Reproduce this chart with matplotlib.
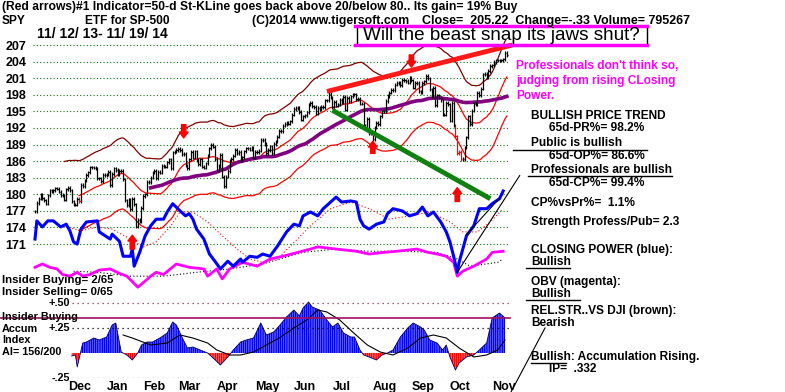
import numpy as np
import pandas as pd
import matplotlib
matplotlib.use('Agg')
import matplotlib.pyplot as plt
from matplotlib.lines import Line2D
from matplotlib.patches import Rectangle

plt.rcParams['font.family'] = ['Liberation Sans', 'DejaVu Sans']
plt.rcParams['hatch.linewidth'] = 1.1

W, H = 785, 392
X0 = 35          # pixel of first bar
PX_DAY = 1.836   # pixels per trading day

# ---------------- data ----------------
# SPY daily closes 11/12/13 - 11/19/14
nov13 = [176.9, 178.4, 179.2, 180.0, 179.3, 178.9, 178.3, 179.8, 180.7, 180.6, 180.7, 181.1, 181.0]
dec13 = [180.5, 179.9, 179.8, 179.0, 180.9, 181.2, 180.7, 178.7, 178.1, 178.1, 179.2, 178.7, 181.7,
         181.5, 182.5, 183.5, 184.0, 184.9, 184.9, 184.8, 184.7]
jan14 = [182.9, 182.9, 182.4, 183.5, 183.5, 183.6, 184.1, 181.7, 183.7, 184.7, 184.4, 183.6, 184.2,
         184.3, 182.7, 178.9, 178.0, 179.1, 177.3, 179.2, 178.2]
feb14 = [174.2, 175.4, 175.2, 177.5, 179.7, 180.0, 182.2, 182.2, 183.0, 184.0, 184.2, 182.9, 184.1,
         183.9, 185.1, 185.0, 185.0, 185.8, 186.3]
mar14 = [184.7, 187.6, 187.7, 188.0, 188.2, 188.0, 187.2, 187.3, 185.2, 184.7, 186.3, 187.7, 186.6,
         187.8, 186.2, 185.4, 186.3, 185.0, 184.8, 185.6, 187.0]
apr14 = [188.3, 188.9, 188.6, 186.4, 184.3, 185.1, 187.1, 183.2, 181.5, 183.2, 184.2, 186.1, 186.4,
         187.0, 188.0, 187.4, 187.7, 186.2, 186.7, 187.8, 188.3]
may14 = [188.3, 188.1, 188.4, 186.6, 187.7, 187.6, 187.9, 189.8, 189.9, 189.1, 187.4, 188.0, 188.7,
         187.4, 189.1, 189.6, 190.4, 191.5, 191.4, 192.4, 192.7]
jun14 = [192.9, 192.8, 193.2, 194.4, 195.4, 195.6, 195.6, 194.9, 193.5, 194.1, 194.3, 194.8, 196.3,
         196.5, 195.9, 195.8, 194.6, 195.6, 195.4, 195.8, 195.7]
jul14 = [197.0, 197.0, 198.2, 197.5, 195.8, 196.7, 196.0, 196.3, 197.1, 196.7, 197.6, 195.3, 197.4,
         196.9, 197.7, 198.0, 198.1, 197.2, 197.3, 196.4, 196.4, 192.5]
aug14 = [192.0, 193.6, 191.1, 191.0, 190.0, 192.1, 192.9, 192.7, 194.1, 195.0, 195.0, 196.9, 197.8,
         198.4, 198.9, 198.8, 199.8, 200.1, 200.1, 199.7, 200.7]
sep14 = [200.6, 200.5, 200.2, 201.1, 200.6, 199.3, 200.1, 200.2, 198.6, 198.5, 200.1, 200.4, 201.4,
         201.0, 199.0, 197.7, 199.3, 196.1, 197.9, 197.5, 197.0]
oct14 = [194.4, 194.4, 196.5, 196.3, 193.3, 196.6, 192.5, 190.5, 187.4, 187.7, 186.4, 186.4, 188.5,
         190.3, 194.1, 192.7, 195.1, 196.4, 196.2, 198.4, 197.9, 199.1, 201.7]
nov14 = [201.8, 201.1, 202.3, 203.2, 203.3, 203.9, 204.2, 204.2, 204.2, 204.2, 204.4, 205.6, 205.2]

month_names = ['Dec', 'Jan', 'Feb', 'Mar', 'Apr', 'May', 'Jun', 'Jul', 'Aug', 'Sep', 'Oct', 'Nov']
month_start = [13, 34, 54, 73, 94, 115, 136, 157, 179, 200, 221, 244]
price_ticks = [207, 204, 201, 198, 195, 192, 189, 186, 183, 180, 177, 174, 171]
red_bar_days = [24, 229, 230, 231, 232]

# closing power (blue), plotted on the price scale
cp_x = [0, 1, 4, 7, 10, 14, 17, 19, 21, 23, 25, 28, 34, 35, 41, 42, 46, 48, 52, 53, 54, 57, 60, 63,
        66, 70, 72, 75, 79, 82, 84, 86, 88, 92, 95, 98, 101, 105, 108, 112, 113, 117, 121, 124, 128,
        132, 137, 141, 144, 146, 150, 154, 157, 161, 164, 167, 172, 175, 177, 179, 182, 186, 190,
        192, 195, 200, 204, 208, 211, 214, 217, 221, 224, 226, 228, 230, 231, 235, 239, 242, 246,
        249, 253, 255]
cp_val = [171.9, 175.2, 174.1, 175.2, 175.2, 174.1, 174.6, 173.4, 171.4, 171.0, 173.7, 175.0, 175.2,
          173.2, 171.9, 172.8, 171.5, 168.8, 168.8, 170.1, 167.0, 169.5, 172.5, 174.3, 175.5, 175.5,
          176.8, 178.3, 177.0, 176.1, 176.5, 175.5, 173.7, 171.9, 169.2, 167.9, 166.5, 167.9, 167.0,
          168.3, 167.7, 168.8, 168.6, 169.2, 168.8, 170.6, 173.2, 174.6, 174.3, 176.1, 176.8, 176.1,
          177.4, 178.6, 179.5, 178.6, 178.8, 178.6, 175.5, 174.3, 173.7, 174.6, 175.0, 176.5, 177.4,
          177.0, 176.1, 176.5, 177.7, 176.1, 176.8, 175.0, 173.2, 171.4, 168.8, 165.9, 167.7, 172.5,
          174.3, 177.4, 177.4, 178.3, 179.2, 180.6]
cp_ma_x = [15, 25, 34, 42, 52, 59, 66, 74, 79, 86, 94, 102, 110, 117, 124, 132, 139, 150, 161, 172,
           182, 193, 204, 215, 226, 233, 241, 248, 255]
cp_ma_val = [174.3, 173.4, 174.1, 173.7, 171.9, 170.5, 171.4, 174.3, 176.8, 176.8, 175.0, 172.5,
             170.1, 168.3, 167.7, 168.3, 170.6, 174.3, 177.4, 178.6, 177.4, 175.5, 176.1, 176.8,
             175.0, 173.2, 173.2, 175.0, 177.4]

# OBV (magenta) and its average, plotted on the price scale
obv_x = [0, 4, 8, 12, 15, 19, 23, 26, 30, 35, 41, 46, 50, 56, 61, 63, 66, 70, 77, 84, 92, 94, 99,
         102, 106, 113, 121, 128, 135, 143, 150, 154, 164, 175, 182, 190, 197, 208, 214, 219, 224,
         228, 230, 233, 239, 246, 249, 255]
obv_val = [166.8, 167.4, 166.8, 166.5, 165.5, 165.2, 165.9, 165.2, 165.5, 166.3, 166.5, 165.7, 165.2,
           163.2, 164.6, 165.2, 165.9, 165.5, 167.4, 166.8, 166.5, 165.2, 166.5, 164.7, 166.5, 167.7,
           167.0, 168.3, 168.8, 169.5, 170.1, 170.5, 170.1, 169.7, 169.2, 169.5, 169.7, 170.1, 169.5,
           169.2, 168.8, 167.7, 165.2, 166.1, 167.0, 168.3, 169.5, 169.7]
obv_ma_x = [21, 34, 52, 70, 88, 106, 124, 146, 164, 182, 200, 219, 230, 237, 252, 255]
obv_ma_val = [166.1, 165.9, 165.2, 165.2, 165.9, 166.5, 167.4, 169.5, 170.1, 169.7, 169.7, 169.5,
              168.3, 167.0, 167.7, 168.3]

# trend lines drawn on the chart (day index, value)
red_trend_x, red_trend_y = [159, 260], [198.6, 207.0]
green_trend_x, green_trend_y = [162, 248], [195.2, 179.2]
cp_trend1_x, cp_trend1_y = [230, 264], [165.9, 183.4]
cp_trend2_x, cp_trend2_y = [235, 253], [172.7, 179.3]

# red signal arrows (day index, tail, tip)
down_arrows = [(81, 192.6, 190.2), (205, 205.2, 203.0)]
up_arrows = [(53, 170.1, 172.6), (184, 187.4, 189.6), (230, 178.7, 181.2)]

# accumulation index
ai_x = [20, 22, 23, 26, 28, 32, 35, 39, 42, 44, 45, 47, 50, 53, 56, 58, 61, 64, 68, 72, 75, 77, 80,
        83, 86, 90, 94, 97, 101, 105, 108, 112, 115, 119, 123, 126, 130, 133, 137, 141, 144, 146,
        149, 151, 155, 159, 162, 165, 168, 172, 174, 177, 179, 182, 186, 189, 192, 195, 199, 203,
        206, 210, 212, 215, 219, 222, 224, 226, 229, 231, 235, 239, 242, 246, 249, 253, 256]
ai_val = [-0.03, -0.02, -0.14, 0.10, 0.11, 0.15, 0.13, 0.16, 0.28, 0.30, 0.20, 0.01, -0.02, -0.07,
          0.0, 0.08, 0.11, 0.11, 0.15, 0.20, 0.31, 0.28, 0.16, 0.05, 0.06, 0.03, 0.0, -0.05, -0.12,
          -0.04, 0.03, 0.11, 0.13, 0.15, 0.30, 0.18, 0.21, 0.27, 0.36, 0.43, 0.37, 0.45, 0.51, 0.46,
          0.43, 0.33, 0.26, 0.30, 0.20, 0.16, 0.16, 0.03, -0.02, -0.04, -0.07, -0.02, 0.0, 0.03,
          0.16, 0.25, 0.30, 0.26, 0.23, 0.13, 0.10, 0.03, 0.08, -0.04, -0.17, -0.10, -0.04, -0.02,
          0.03, 0.10, 0.35, 0.40, 0.35]
ai_ma_x = [48, 53, 63, 72, 79, 86, 94, 99, 106, 112, 119, 126, 133, 141, 148, 154, 159, 166, 173,
           181, 188, 195, 203, 210, 217, 224, 231, 239, 246, 252, 256]
ai_ma_val = [0.18, 0.15, 0.08, 0.10, 0.18, 0.15, 0.10, 0.03, -0.02, -0.02, 0.01, 0.08, 0.15, 0.25,
             0.33, 0.43, 0.41, 0.33, 0.21, 0.08, 0.01, -0.02, 0.05, 0.15, 0.18, 0.15, 0.05, -0.04,
             -0.02, 0.03, 0.13]
insider_level = 0.35

# ---------------- figure ----------------
def fx(px):
    return px / W


def fy(py):
    return 1 - py / H


closes = np.array(nov13 + dec13 + jan14 + feb14 + mar14 + apr14 + may14 + jun14 + jul14 +
                  aug14 + sep14 + oct14 + nov14)
days = np.arange(len(closes))
s = pd.Series(closes)
ma21 = s.rolling(21, min_periods=1).mean().values
ma50 = s.rolling(50, min_periods=1).mean().values

fig = plt.figure(figsize=(W / 100, H / 100), dpi=100)
fig.patch.set_facecolor('white')

xlim = (-X0 / PX_DAY, (530 - X0) / PX_DAY)
ax = fig.add_axes([0, fy(292), fx(530), (292 - 40) / H])
ax.set_xlim(*xlim)
ax.set_ylim(207 - (292 - 45) / 5.53, 207 + (45 - 40) / 5.53)
for sp in ax.spines.values():
    sp.set_visible(False)
ax.set_xticks([])
ax.set_yticks(price_ticks)
ax.set_yticklabels([str(p) for p in price_ticks], fontweight='bold', fontsize=9)
ax.tick_params(axis='y', length=0, pad=-19)

ax.hlines(price_ticks, -1, 258, colors='#0a7a0a', linestyles=(0, (1, 2)), lw=0.8)

# bands and averages
ax.plot(days[16:], ma21[16:] * 1.035, color='#800000', lw=0.9)
ax.plot(days[24:], ma21[24:], color='#ff0000', lw=0.9)
ax.plot(days[24:], ma21[24:] * 0.965, color='#ff0000', lw=0.9)
ax.plot(days[63:], ma50[63:], color='#800080', lw=2.6)

# price bars
prev = np.r_[closes[0], closes[:-1]]
lo = np.minimum(prev, closes) - 0.3
hi = np.maximum(prev, closes) + 0.3
bar_col = ['red' if d in red_bar_days else 'black' for d in days]
ax.vlines(days, lo, hi, colors=bar_col, lw=0.9)
ax.hlines(closes, days, days + 0.8, colors=bar_col, lw=0.9)

# trend lines
ax.plot(red_trend_x, red_trend_y, color='#ff1a1a', lw=3.5, solid_capstyle='butt')
ax.plot(green_trend_x, green_trend_y, color='#108010', lw=3.5, solid_capstyle='butt')

# indicators
ax.plot(cp_ma_x, cp_ma_val, color='#ff0000', lw=0.8, ls=(0, (1, 2)))
ax.plot(obv_ma_x, obv_ma_val, color='black', lw=0.8, ls=(0, (1, 2)))
ax.plot(obv_x, obv_val, color='#ff00ff', lw=2)
ax.plot(cp_x, cp_val, color='#0000ff', lw=2.2)
ax.plot(cp_trend1_x, cp_trend1_y, color='black', lw=0.8, clip_on=False)
ax.plot(cp_trend2_x, cp_trend2_y, color='black', lw=0.8)

for d, tail, tip in down_arrows + up_arrows:
    ax.annotate('', xy=(d, tip), xytext=(d, tail),
                arrowprops=dict(arrowstyle='simple,head_width=0.9,head_length=0.6,tail_width=0.45',
                                color='red', shrinkA=0, shrinkB=0, mutation_scale=7))

# accumulation panel
ax2 = fig.add_axes([0, fy(378), fx(530), (378 - 292) / H])
ax2.set_xlim(*xlim)
ax2.set_ylim(-0.25, 0.25 + (328 - 292) / 100)
for sp in ax2.spines.values():
    sp.set_visible(False)
ax2.set_yticks([])
ax2.set_xticks([m + 5 for m in month_start])
ax2.set_xticklabels(month_names, fontweight='bold', fontsize=9, ha='left')
ax2.tick_params(axis='x', length=0, pad=2)

ai_x_a = np.array(ai_x)
ai_v_a = np.array(ai_val)
ax2.fill_between(ai_x_a, 0, ai_v_a, where=ai_v_a >= 0, interpolate=True,
                 facecolor='white', edgecolor='#0000ff', hatch='|' * 9, lw=0)
ax2.fill_between(ai_x_a, 0, ai_v_a, where=ai_v_a <= 0, interpolate=True,
                 facecolor='white', edgecolor='#ff0000', hatch='|' * 9, lw=0)
ax2.plot(ai_x, ai_val, color='#000060', lw=0.6)
ax2.plot(ai_ma_x, ai_ma_val, color='black', lw=0.8)
ax2.hlines([0.5, -0.25], 20, 258, colors='#903050', linestyles=(0, (1, 3)), lw=0.9)
ax2.hlines([0.25], 20, 258, colors='black', linestyles=(0, (1, 3)), lw=0.9)
ax2.axhline(insider_level, xmin=0, xmax=510 / 530, color='#a01060', lw=1.2)
for v, lab in [(0.5, '+.50'), (0.25, '+.25'), (-0.25, '-.25')]:
    ax2.text(19, v, lab, ha='right', va='center', fontsize=7.8, fontweight='bold')

# ---------------- texts ----------------
def t(x, y, s, **kw):
    kw.setdefault('fontsize', 8.6)
    kw.setdefault('fontweight', 'bold')
    fig.text(fx(x), fy(y), s, va='center', ha=kw.pop('ha', 'left'), **kw)


def hline(x1, x2, y, color='black', lw=1.0):
    fig.add_artist(Line2D([fx(x1), fx(x2)], [fy(y), fy(y)], color=color, lw=lw))


t(2, 7, '(Red arrows)#1 Indicator=50-d St-KLine goes back above 20/below 80.. Its gain= 19% Buy',
  family=['Liberation Sans Narrow', 'Liberation Sans'], fontsize=8.7)
t(2, 21, 'SPY')
t(85, 21, 'ETF for SP-500')
t(252, 21, '(C)2014 www.tigersoft.com', fontsize=8.8)
t(422, 21, 'Close=  205.22  Change=-.33 Volume= 795267', fontsize=9)
t(37, 34, '11/ 12/ 13- 11/ 19/ 14', fontsize=10)

fig.add_artist(Rectangle((fx(357), fy(45)), fx(647) - fx(357), fy(26) - fy(45),
                         fill=False, ec='black', lw=1))
hline(355, 647, 26, color='#ff00ff', lw=2.5)
hline(355, 647, 45, color='#ff00ff', lw=2.5)
t(501, 35.5, 'Will the beast snap its jaws shut?', ha='center', fontsize=13.6, fontweight='normal')

mag = '#ff00ff'
t(516, 66, "Professionals don't think so,", color=mag)
t(516, 81, 'judging from rising CLosing', color=mag)
t(516, 96, 'Power.', color=mag)

t(531, 116, 'BULLISH PRICE TREND')
t(549, 128, '65d-PR%= 98.2%')
t(531, 143, 'Public is bullish')
hline(513, 647, 150)
t(549, 156, '65d-OP%= 86.6%')
t(531, 170, 'Professionals are bullish')
hline(528, 672, 176)
t(549, 183, '65d-CP%= 99.4%')
t(531, 203, 'CP%vsPr%=  1.1%')
t(531, 222, 'Strength Profess/Pub= 2.3')

t(531, 250, 'CLOSING POWER (blue):')
t(531, 262, 'Bullish')
hline(526, 570, 268)
t(531, 282, 'OBV (magenta):')
t(531, 294, 'Bullish')
hline(526, 580, 300)
t(531, 311, 'REL.STR..VS DJI (brown):')
t(531, 323, 'Bearish')
t(531, 357, 'Bullish: Accumulation Rising.')
hline(531, 566, 363)
t(549, 369, 'IP=  .332')
fig.add_artist(Line2D([fx(545), fx(511)], [fy(328), fy(392)], color='black', lw=0.8))

t(2, 280, 'Insider Buying= 2/65', fontsize=8.2)
t(2, 292, 'Insider Selling= 0/65', fontsize=8.2)
t(2, 317, 'Insider Buying', fontsize=7.8)
t(2, 329, 'Accum', fontsize=7.8)
t(2, 340, 'Index', fontsize=7.8)
t(2, 352, 'AI= 156/200', fontsize=7.8)

fig.savefig('out.png', dpi=100)
